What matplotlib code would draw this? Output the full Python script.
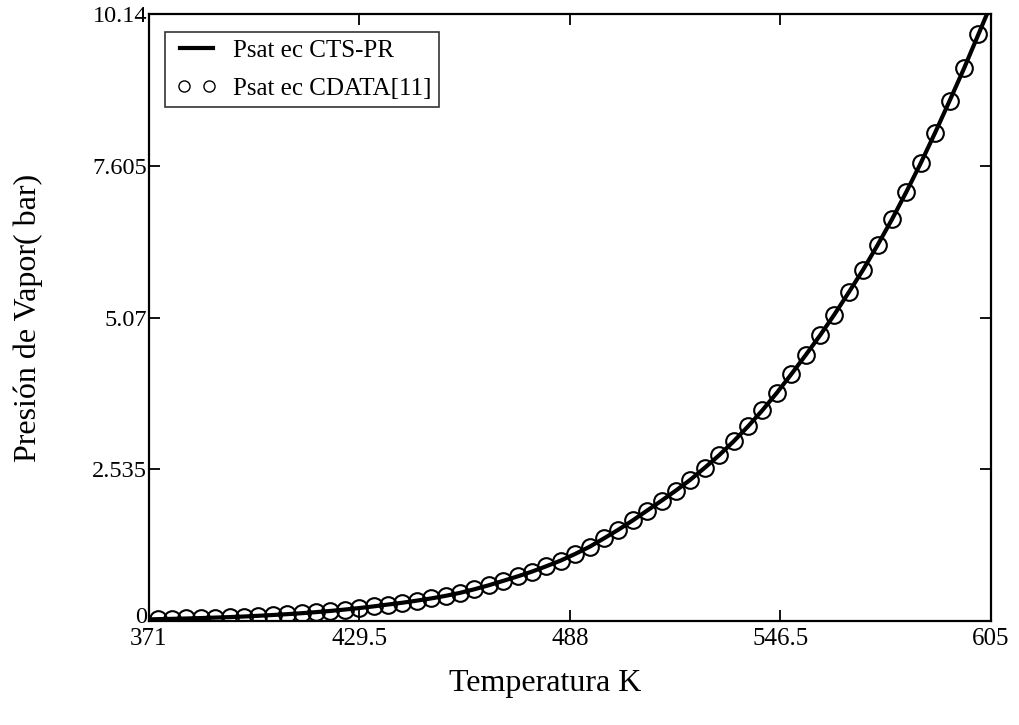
import matplotlib
matplotlib.use("Agg")
import matplotlib.pyplot as plt
import matplotlib.transforms as mtransforms
from matplotlib.lines import Line2D
from matplotlib.legend_handler import HandlerLine2D

plt.rcParams['font.family'] = ['Liberation Serif', 'DejaVu Serif']

# CDATA points (temperature K, saturation pressure bar)
t_cdata = [373.5, 377.5, 381.5, 385.5, 389.5, 393.5, 397.5, 401.5, 405.5, 409.5,
           413.5, 417.5, 421.5, 425.5, 429.5, 433.5, 437.5, 441.5, 445.5, 449.5,
           453.5, 457.5, 461.5, 465.5, 469.5, 473.5, 477.5, 481.5, 485.5, 489.5,
           493.5, 497.5, 501.5, 505.5, 509.5, 513.5, 517.5, 521.5, 525.5, 529.5,
           533.5, 537.5, 541.5, 545.5, 549.5, 553.5, 557.5, 561.5, 565.5, 569.5,
           573.5, 577.5, 581.5, 585.5, 589.5, 593.5, 597.5, 601.5]
p_cdata = [0.031, 0.036, 0.042, 0.049, 0.057, 0.065, 0.075, 0.087, 0.100, 0.114,
           0.130, 0.148, 0.168, 0.191, 0.216, 0.244, 0.275, 0.305, 0.340, 0.377,
           0.420, 0.470, 0.530, 0.597, 0.670, 0.745, 0.825, 0.915, 1.010, 1.120,
           1.240, 1.380, 1.525, 1.680, 1.845, 2.010, 2.180, 2.360, 2.560, 2.770,
           3.000, 3.250, 3.520, 3.810, 4.120, 4.440, 4.770, 5.120, 5.490, 5.870,
           6.280, 6.710, 7.170, 7.650, 8.160, 8.690, 9.230, 9.800]

# CTS-PR curve end points (the rest follows the CDATA grid)
t_start, p_start = 371.0, 0.027
t_end, p_end = 605.0, 10.30

x_ticks = [371, 429.5, 488, 546.5, 605]
x_tick_labels = ['371', '429.5', '488', '546.5', '605']
y_ticks = [0, 2.535, 5.07, 7.605, 10.14]
y_tick_labels = ['0', '2.535', '5.07', '7.605', '10.14']

t_line = [t_start] + t_cdata + [t_end]
p_line = [p_start] + p_cdata + [p_end]

fig = plt.figure(figsize=(10.2, 7.25), dpi=100)
ax = fig.add_axes([148.5 / 1020, 1 - 621 / 725, 842.5 / 1020, 607 / 725])

ax.plot(t_line, p_line, color='black', linewidth=3.0, solid_capstyle='butt')
ax.plot(t_cdata, p_cdata, linestyle='none', marker='o', markersize=12,
        markerfacecolor='none', markeredgecolor='black', markeredgewidth=1.5)

ax.set_xlim(371, 605)
ax.set_ylim(0, 10.14)
ax.set_xticks(x_ticks)
ax.set_xticklabels(x_tick_labels)
ax.set_yticks(y_ticks)
ax.set_yticklabels(y_tick_labels)
ax.tick_params(direction='in', length=8, width=1.3, top=True, right=True)
ax.tick_params(axis='x', labelsize=18, pad=5)
ax.tick_params(axis='y', labelsize=17.5, pad=1)
for s in ax.spines.values():
    s.set_linewidth(1.6)

# lift the "0" label a little so it clears the "371" below it
zero_lbl = ax.get_yticklabels()[0]
zero_lbl.set_transform(zero_lbl.get_transform() +
                       mtransforms.ScaledTranslation(0, 4 / 72, fig.dpi_scale_trans))

fig.text(545 / 1020, 1 - 683 / 725, 'Temperatura K', fontsize=23,
         ha='center', va='center')
fig.text(28 / 1020, 1 - 318 / 725, 'Presión de Vapor( bar)', fontsize=23,
         ha='center', va='center', rotation=90)

h_line = Line2D([], [], color='black', linewidth=3.0)
h_pts = Line2D([], [], linestyle='none', marker='o', markersize=8,
               markerfacecolor='none', markeredgecolor='black', markeredgewidth=1.0)
leg = ax.legend([h_line, h_pts], ['Psat ec CTS-PR', 'Psat ec CDATA[11]'],
                loc='upper left', bbox_to_anchor=(0.02, 0.97), numpoints=2,
                handler_map={h_pts: HandlerLine2D(numpoints=2, marker_pad=0.45)},
                fontsize=18, frameon=True, fancybox=False, borderpad=0.3,
                handlelength=1.9, handletextpad=0.5, labelspacing=0.6,
                borderaxespad=0.0)
leg.get_frame().set_edgecolor('black')
leg.get_frame().set_linewidth(1.2)

fig.savefig('out.png', dpi=100)
